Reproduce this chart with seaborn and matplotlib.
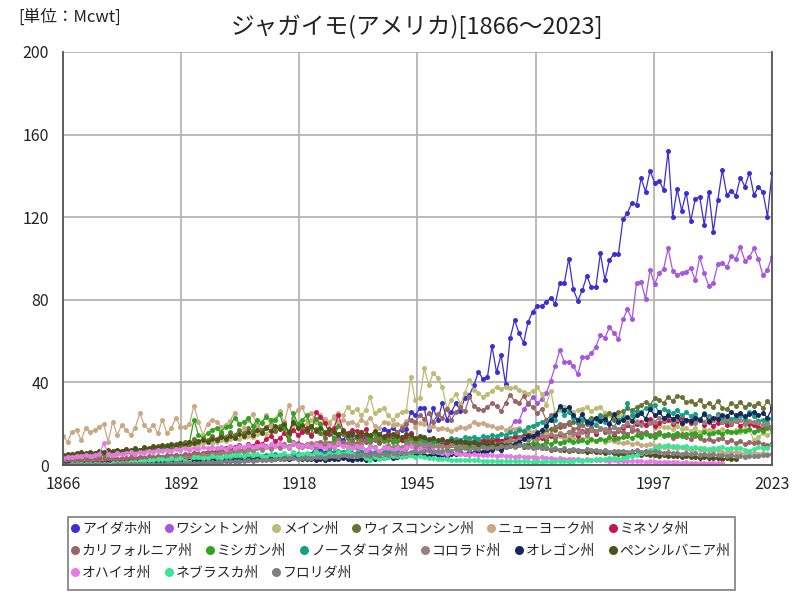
import matplotlib
matplotlib.use("Agg")
import matplotlib.pyplot as plt
import seaborn as sns
import pandas as pd
from matplotlib.lines import Line2D
from matplotlib.patches import Rectangle

START = 1866

idaho = [0.1,0.1,0.1,0.1,
    0.1,0.1,0.1,0.1,0.1,0.2,0.2,0.2,0.2,0.3,
    0.3,0.3,0.4,0.4,0.5,0.5,0.6,0.6,0.7,0.7,
    0.8,0.9,1.0,1.0,1.1,1.2,1.2,1.3,1.4,1.5,
    1.6,1.8,1.7,2.0,2.1,2.0,2.3,2.4,2.6,2.8,
    3.0,3.4,3.8,3.5,3.2,3.6,3.0,4.2,4.0,3.2,
    4.0,5.3,8.6,7.3,6.0,6.9,8.9,13.7,12.1,15.0,
    14.5,13.7,13.4,12.9,12.1,12.5,14.0,17.3,16.6,17.8,
    16.1,17.0,17.5,25.8,24.0,27.4,27.4,17.0,27.4,21.8,
    30.0,22.0,25.8,29.9,26.3,32.6,33.9,38.7,45.2,41.6,
    42.8,57.6,44.9,53.3,39.2,61.3,70.2,63.8,59.2,69.4,
    74.2,77.0,77.0,78.8,81.0,78.0,88.3,88.0,100.0,85.0,
    79.6,84.7,91.5,86.0,86.3,102.5,89.6,99.3,102.2,102.2,
    119.0,122.2,127.0,126.0,138.8,132.4,142.5,136.7,137.7,133.2,
    152.2,120.0,133.5,123.2,131.9,118.2,128.8,130.0,116.2,132.4,
    113.0,128.3,142.9,130.8,132.9,130.3,139.2,134.8,141.6,130.8,
    134.8,132.0,120.3,141.6]

washington = [0.2,0.2,0.2,0.3,
    0.3,0.3,0.4,0.4,0.4,0.5,0.5,0.6,0.6,0.7,
    0.7,0.8,0.9,1.0,1.0,1.1,1.2,1.3,1.5,1.6,
    1.8,2.0,2.1,2.2,2.0,2.3,2.5,2.4,2.6,2.8,
    2.9,3.1,3.0,3.3,3.5,3.2,3.6,3.8,3.5,4.0,
    4.2,4.5,4.0,4.3,4.6,4.4,4.0,5.5,5.2,4.8,
    4.5,5.0,5.6,4.8,4.2,5.2,5.8,5.0,6.0,5.5,
    5.2,5.8,5.0,5.6,6.2,5.8,6.0,6.5,6.2,6.8,
    7.2,7.0,8.0,9.5,8.5,9.0,8.2,8.8,9.4,9.0,
    10.5,9.0,9.8,10.2,9.5,10.8,11.5,10.8,11.2,12.0,
    11.0,12.5,11.8,10.8,11.5,17.3,21.5,21.5,27.0,29.5,
    33.0,29.9,31.8,34.7,40.8,48.0,55.7,50.0,50.0,48.0,
    43.9,52.4,52.4,54.0,57.3,63.0,61.6,66.7,64.0,61.0,
    70.5,75.4,70.5,88.3,88.8,80.4,94.4,87.6,92.8,95.0,
    104.9,94.1,92.0,93.1,93.6,95.2,89.6,100.6,92.8,86.8,
    88.3,97.3,98.0,95.7,101.2,99.8,105.4,98.9,100.6,104.9,
    99.6,91.9,94.4,100.9]

maine = [3.0,3.5,3.2,4.0,
    4.2,3.8,4.5,4.8,4.4,5.2,5.0,5.6,5.2,6.0,
    6.2,5.8,6.6,7.0,6.5,7.2,7.8,7.0,8.2,8.0,
    8.5,9.0,8.4,9.5,9.0,10.2,9.8,10.5,11.0,10.6,
    11.2,12.0,11.5,12.6,13.0,12.4,13.8,14.2,13.5,15.0,
    16.0,15.2,17.0,16.4,18.0,17.2,16.5,19.5,20.5,18.5,
    20.0,22.0,21.0,20.5,21.0,21.0,22.6,25.0,24.0,28.2,
    25.8,27.0,24.2,26.6,33.0,25.0,26.6,27.4,24.2,21.8,
    24.2,25.8,26.0,42.8,31.5,32.3,46.8,38.7,44.7,42.0,
    37.6,27.4,31.5,34.4,29.5,34.7,41.2,36.3,35.0,33.0,
    34.4,36.0,37.9,36.7,37.9,37.4,37.6,36.3,35.5,34.4,
    36.0,37.6,34.4,29.0,36.0,25.0,26.6,28.0,27.0,25.5,
    26.6,27.0,28.0,26.0,27.5,28.0,25.0,24.0,22.6,23.5,
    24.0,22.0,23.0,21.5,20.5,19.5,21.5,18.0,19.0,18.2,
    18.5,17.5,19.0,17.2,18.0,16.5,17.7,16.0,17.5,16.8,
    17.0,16.5,17.2,16.0,15.8,17.0,16.2,17.5,16.8,12.0,
    13.5,15.5,14.5,16.0]

wisconsin = [3.5,4.0,3.6,4.2,
    4.5,4.0,4.8,5.0,4.6,5.2,5.5,5.0,5.8,6.0,
    6.5,7.0,6.8,7.5,8.0,7.6,8.4,9.0,8.5,9.5,
    8.8,10.0,9.5,11.0,10.2,12.5,11.0,13.0,12.0,14.0,
    12.5,15.0,13.5,16.0,14.5,17.0,15.5,18.0,16.5,19.5,
    17.0,18.5,20.0,16.5,19.0,21.0,15.0,20.5,19.0,17.0,
    16.0,14.0,17.5,15.5,13.0,16.0,12.5,14.5,15.0,13.0,
    12.0,13.5,12.5,11.0,13.0,12.0,10.5,11.5,12.0,11.0,
    11.5,12.0,11.0,13.0,12.5,12.0,11.5,10.5,11.0,10.0,
    10.5,9.8,10.2,11.0,10.0,11.5,10.8,11.5,12.0,11.0,
    11.5,12.5,12.0,11.5,12.5,13.0,14.0,13.5,14.5,15.0,
    15.5,16.0,15.0,16.5,17.5,17.0,18.5,19.5,20.0,21.0,
    20.5,22.0,21.5,23.0,22.5,24.0,23.5,25.0,22.0,25.5,
    26.0,27.5,26.5,28.0,29.0,30.5,29.0,32.5,31.5,30.0,
    33.0,31.0,33.5,33.0,30.5,31.0,29.5,31.5,28.5,30.0,
    28.0,31.0,27.5,27.0,30.0,28.5,30.5,28.0,29.5,28.5,
    30.0,27.5,31.0,28.0]

new_york = [14.0,11.3,16.0,17.0,
    12.0,17.8,16.0,17.0,18.5,20.0,11.3,21.0,14.5,19.4,
    17.0,14.5,18.0,25.0,19.4,17.0,19.4,15.3,22.0,15.3,
    17.8,23.0,18.5,18.5,20.0,28.6,21.0,14.5,20.0,22.0,
    21.0,18.5,19.4,21.5,25.3,20.0,18.0,22.0,24.5,19.0,
    21.0,24.0,19.0,22.5,26.0,20.5,29.0,23.0,26.6,28.0,
    22.0,25.0,21.0,24.0,22.5,20.0,23.5,21.0,22.0,20.5,
    21.0,19.5,22.0,20.5,23.0,19.0,18.0,21.0,20.5,19.5,
    20.0,19.0,21.5,22.0,18.5,20.5,20.0,18.5,19.0,17.5,
    18.0,17.3,16.5,17.5,18.5,18.0,19.0,21.0,20.0,20.5,
    19.5,19.0,17.8,18.5,17.0,18.0,17.5,18.0,16.5,17.0,
    16.0,15.5,14.0,15.0,14.5,13.0,14.0,12.5,13.5,13.0,
    12.0,12.5,13.5,12.0,11.5,12.8,11.0,12.0,11.5,11.0,
    10.5,11.0,10.0,10.5,9.5,9.8,10.0,9.0,9.5,8.8,
    8.5,9.0,8.0,8.5,7.8,7.5,8.0,7.2,7.5,7.0,
    6.8,7.2,6.5,6.0,6.5,6.2,6.0,5.5,6.0,5.8,
    5.5,6.0,5.2,5.5]

minnesota = [0.8,1.0,1.2,1.0,
    1.3,1.5,1.2,1.6,1.8,1.5,2.0,1.8,2.2,2.5,
    2.2,2.8,2.5,3.0,3.2,2.8,3.5,3.2,4.0,3.6,
    4.2,4.8,3.8,5.0,4.5,6.0,5.2,5.8,6.5,6.0,
    7.0,6.2,8.0,7.5,8.5,9.5,8.0,10.0,9.2,11.0,
    10.0,12.5,14.0,11.5,13.0,15.5,12.0,17.0,14.5,16.0,
    18.0,14.5,25.8,23.4,20.5,15.0,18.0,24.2,17.0,15.5,
    17.0,16.5,14.5,17.5,13.0,15.5,12.5,14.0,15.0,13.5,
    14.5,12.0,13.5,15.5,11.5,13.0,12.5,11.0,12.0,10.5,
    11.0,10.0,10.5,11.5,9.5,10.0,11.0,10.5,9.8,11.5,
    12.0,11.0,12.5,11.5,13.0,12.0,13.5,12.5,14.0,13.0,
    13.5,14.5,13.0,12.0,14.0,13.5,15.0,14.5,16.0,15.5,
    14.0,16.5,15.5,17.0,15.0,18.0,16.0,17.5,14.5,17.0,
    18.0,19.5,17.0,20.0,21.0,19.5,22.5,19.0,20.5,21.5,
    22.0,20.0,21.5,23.0,22.0,20.5,21.0,22.5,19.5,21.0,
    19.0,20.5,21.0,19.5,20.0,21.5,19.0,20.5,20.0,19.5,
    18.5,17.5,19.5,18.0]

california = [2.0,2.2,1.8,2.5,
    2.4,2.8,2.6,3.0,2.7,3.2,3.0,3.4,3.1,3.5,
    3.3,3.8,3.5,4.0,3.6,4.2,3.9,4.5,4.1,4.8,
    4.5,5.0,4.6,5.4,5.0,5.8,5.2,6.0,5.6,6.4,
    6.0,6.8,6.2,7.2,6.6,7.5,7.0,8.0,7.4,8.5,
    8.0,9.0,8.2,9.5,8.6,10.0,9.0,11.0,10.5,9.5,
    10.0,9.0,10.5,11.0,9.5,10.8,11.5,10.0,11.0,10.5,
    11.0,10.5,11.5,12.0,11.0,12.5,13.0,12.0,13.5,14.5,
    16.0,18.0,20.0,22.0,21.0,24.0,22.5,25.0,21.0,24.5,
    23.0,27.0,22.0,25.5,28.0,26.0,33.0,28.5,27.0,26.6,
    28.0,30.0,28.5,26.0,30.0,34.0,31.0,30.0,33.5,30.0,
    28.0,25.0,27.0,21.8,24.0,18.5,20.0,19.0,21.0,17.5,
    18.0,19.5,17.0,18.5,16.5,17.5,16.0,17.0,15.5,16.5,
    16.0,15.0,16.5,17.0,15.5,16.0,14.5,15.0,16.0,14.0,
    14.5,13.0,14.0,15.0,13.5,12.5,14.0,13.0,12.0,12.5,
    11.5,12.5,13.0,11.0,12.0,10.5,11.5,10.0,11.0,10.5,
    11.0,10.0,9.5,10.5]

michigan = [4.0,4.5,4.2,5.0,
    5.2,4.6,5.5,5.0,6.0,5.4,6.2,5.8,6.5,6.0,
    6.8,6.2,7.5,7.0,8.0,7.2,8.5,7.8,9.0,8.2,
    9.5,8.8,10.5,9.5,11.0,21.8,14.5,13.0,15.3,17.0,
    17.8,16.0,18.5,19.0,23.0,20.0,21.0,22.6,19.0,21.8,
    20.5,23.4,22.0,21.8,24.5,18.0,12.0,25.0,20.0,22.0,
    24.0,18.0,22.5,20.0,16.0,17.5,13.0,19.0,16.5,14.0,
    15.5,13.0,16.0,14.5,12.0,15.0,13.5,12.5,14.0,11.5,
    12.0,13.5,11.0,12.5,10.5,12.0,11.0,10.0,11.5,9.5,
    9.0,8.5,9.5,8.0,9.0,8.5,9.2,8.0,8.8,9.5,
    9.0,9.5,8.8,9.8,9.2,10.0,9.5,10.5,9.8,10.0,
    10.5,10.0,9.5,11.0,10.2,11.5,10.8,11.0,12.0,11.2,
    11.5,12.0,11.0,12.5,11.8,12.8,12.0,13.5,12.5,13.0,
    13.5,14.0,13.0,14.5,13.8,15.0,14.2,13.5,15.0,14.5,
    15.0,14.5,15.5,14.0,15.2,14.8,15.5,14.2,15.8,15.0,
    15.5,16.0,15.2,16.5,15.8,16.2,17.0,16.5,17.2,16.0,
    17.0,16.5,17.8,17.2]

north_dakota = [0.1,0.1,0.1,0.1,
    0.1,0.1,0.1,0.2,0.2,0.2,0.3,0.3,0.4,0.4,
    0.5,0.6,0.8,1.0,1.1,1.3,1.2,1.5,1.4,1.6,
    1.8,2.0,1.9,2.2,2.0,2.5,2.3,2.6,2.8,3.0,
    3.2,3.0,3.5,3.8,3.4,4.0,3.7,4.2,4.5,4.0,
    4.6,5.0,4.4,5.2,4.8,5.5,4.5,6.0,5.2,5.0,
    5.5,5.0,6.5,6.0,5.5,6.8,6.2,7.0,6.5,7.2,
    6.0,5.5,6.8,5.2,5.0,6.5,5.8,6.2,7.0,6.8,
    7.5,8.0,9.0,10.5,9.5,10.0,11.0,12.0,12.5,11.0,
    12.0,11.5,13.0,12.5,12.0,13.5,13.0,13.7,12.5,14.0,
    13.5,14.5,14.0,15.0,14.5,16.0,15.5,17.0,16.5,18.5,
    19.0,20.0,21.0,19.5,23.0,22.0,28.0,24.0,25.5,23.0,
    21.0,22.5,20.0,21.8,19.5,23.5,21.0,20.5,18.5,22.0,
    23.0,30.0,24.0,26.0,25.8,27.5,28.0,29.0,25.5,27.0,
    26.0,25.0,26.5,24.0,25.5,23.5,24.5,22.0,25.0,23.5,
    22.0,24.5,23.0,21.5,22.5,23.0,24.0,22.5,25.5,23.5,
    21.5,22.0,20.5,23.0]

colorado = [0.1,0.1,0.1,0.2,
    0.2,0.3,0.3,0.4,0.5,0.5,0.6,0.7,0.8,0.9,
    1.0,1.2,1.4,1.5,1.8,2.0,2.2,2.5,2.8,3.0,
    3.2,3.5,3.3,4.0,3.6,4.5,4.0,5.0,4.5,5.5,
    5.0,6.0,5.5,6.5,5.8,7.0,6.2,7.5,6.8,8.0,
    7.5,8.5,7.8,9.0,8.2,9.5,8.0,10.0,9.0,8.5,
    9.0,10.5,8.0,9.5,11.0,8.5,10.0,12.0,9.0,10.5,
    9.5,8.0,10.0,7.5,9.0,8.5,7.0,8.0,9.5,8.5,
    9.0,8.5,10.0,11.0,9.5,10.5,9.8,10.2,9.0,9.5,
    9.0,8.5,9.5,10.0,8.8,9.5,10.5,9.0,10.0,9.5,
    10.0,10.5,9.5,10.8,11.0,12.0,11.5,12.5,13.0,12.0,
    13.0,12.5,14.0,13.5,15.0,14.0,15.5,14.5,16.0,15.0,
    15.5,16.0,14.5,17.0,16.5,18.0,17.5,16.0,18.5,17.5,
    19.0,20.5,18.5,21.0,19.5,22.5,20.5,21.0,23.0,22.0,
    23.5,21.0,22.5,20.0,21.5,22.0,20.5,22.5,21.0,23.0,
    22.0,23.5,21.0,22.5,20.5,21.5,22.0,20.0,21.5,21.0,
    20.5,19.5,20.0,18.5]

oregon = [0.3,0.3,0.4,0.4,
    0.5,0.5,0.6,0.6,0.7,0.7,0.8,0.8,0.9,0.9,
    1.0,1.0,1.1,1.2,1.2,1.3,1.4,1.4,1.5,1.6,
    1.6,1.7,1.8,1.8,1.9,2.0,2.0,2.1,2.2,2.2,
    2.3,2.4,2.3,2.5,2.6,2.5,2.7,2.8,2.6,2.9,
    3.0,3.2,2.8,3.1,3.3,3.0,2.7,3.5,3.2,3.0,
    2.8,3.0,2.6,2.9,2.5,2.7,3.0,2.8,3.2,2.9,
    2.5,2.8,3.0,2.6,3.2,3.0,3.5,3.3,3.8,3.6,
    4.0,4.5,4.2,5.0,4.8,5.5,5.0,4.6,5.2,4.8,
    5.0,4.5,5.5,5.2,6.0,5.5,6.5,6.0,7.0,6.5,
    7.0,7.5,8.0,7.2,8.5,9.0,10.0,11.0,12.5,14.0,
    14.0,15.5,17.0,19.0,22.0,24.0,28.6,26.6,28.0,24.0,
    22.0,24.5,21.0,20.5,23.0,21.5,22.5,20.0,24.5,21.0,
    22.0,23.4,21.5,24.0,25.0,22.5,27.0,24.0,25.5,23.0,
    24.0,22.5,23.5,20.2,22.0,21.5,23.0,22.0,24.5,21.5,
    23.0,22.5,24.0,23.5,25.8,24.0,25.0,23.5,24.5,25.5,
    24.0,25.0,23.0,27.4]

pennsylvania = [5.0,5.5,5.2,6.0,
    6.2,5.8,6.5,6.0,7.0,6.5,7.2,6.8,7.5,7.0,
    7.8,7.2,8.0,7.5,8.5,8.0,9.0,8.5,9.5,9.0,
    10.0,9.5,10.5,9.8,11.0,10.5,11.5,12.0,11.0,12.5,
    12.0,13.5,12.5,14.0,13.0,15.0,14.0,16.0,14.5,17.0,
    15.5,18.0,16.5,19.0,17.5,20.0,16.0,21.0,18.0,19.5,
    17.0,19.0,16.5,18.0,15.5,17.5,16.0,15.0,16.5,14.5,
    15.5,14.0,16.0,15.0,14.5,16.5,15.0,13.5,14.5,15.0,
    14.0,13.5,15.0,14.5,13.0,14.0,13.5,12.5,13.0,12.0,
    12.5,11.5,12.0,11.0,11.8,11.2,10.5,11.0,10.2,10.8,
    10.0,10.5,9.8,10.2,9.5,9.8,9.2,9.5,8.8,9.0,
    8.5,8.8,8.0,8.2,7.5,7.8,7.2,7.5,7.0,7.2,
    6.8,7.0,6.5,6.8,6.2,6.5,6.0,6.2,5.8,5.5,
    5.5,5.8,5.2,5.5,5.0,5.3,4.8,5.0,4.5,4.7,
    4.5,4.2,4.6,4.0,4.3,3.8,4.0,3.6,3.8,3.5,
    3.3,3.5,3.0,3.2,2.8,3.0]

ohio = [3.5,4.0,3.8,4.5,
    4.2,5.0,4.6,4.8,5.2,10.5,5.5,5.0,6.0,5.4,
    5.8,6.2,5.5,6.5,6.0,7.0,6.4,7.2,6.8,7.5,
    7.0,7.8,7.2,8.0,7.5,8.2,7.8,8.5,8.0,8.8,
    8.0,8.5,7.8,9.0,8.2,9.2,8.5,9.5,8.8,9.0,
    9.5,8.8,10.0,9.2,10.5,9.0,8.5,10.8,9.5,9.0,
    9.5,8.5,10.0,9.0,8.0,9.5,8.8,10.5,9.2,8.5,
    8.0,9.0,8.5,7.5,8.8,8.0,7.0,8.5,8.0,7.5,
    8.0,7.5,8.5,9.0,7.0,8.0,7.5,6.8,7.2,6.5,
    6.0,5.5,6.2,5.8,5.2,5.5,5.0,5.3,4.8,5.0,
    4.8,5.0,4.5,4.8,4.2,4.5,4.0,4.3,3.8,4.0,
    3.8,3.5,3.7,3.2,3.5,3.0,3.2,2.8,3.0,2.7,
    2.8,2.5,2.7,2.3,2.5,2.2,2.4,2.0,2.2,1.9,
    2.0,1.8,2.0,1.7,1.9,1.6,1.8,1.5,1.6,1.4,
    1.5,1.3,1.4,1.2,1.3,1.1,1.2,1.0,1.1,1.0,
    0.9,1.0,0.8]

nebraska = [0.2,0.2,0.3,0.3,
    0.3,0.4,0.4,0.5,0.5,0.6,0.7,0.8,0.9,1.0,
    1.2,1.4,1.6,1.8,2.0,2.2,2.5,2.8,3.0,2.6,
    3.2,2.5,3.5,1.8,1.5,3.8,4.0,3.5,3.2,4.2,
    4.0,3.5,4.5,4.2,4.8,5.0,4.5,5.2,4.8,5.5,
    4.5,3.8,5.5,4.2,5.0,5.8,4.2,6.5,5.0,5.5,
    6.0,5.0,6.5,5.5,4.5,5.8,5.0,6.2,5.5,6.8,
    5.5,4.5,5.0,3.5,2.5,4.0,2.8,3.5,4.0,4.5,
    4.2,4.0,4.5,4.8,4.0,4.2,3.8,3.5,3.2,3.0,
    3.0,2.8,2.5,2.6,2.2,2.4,2.5,2.2,2.3,2.0,
    2.1,2.0,1.8,2.0,1.7,1.9,1.8,2.0,1.7,1.8,
    1.6,1.8,1.5,1.7,1.6,1.9,1.7,1.8,1.6,2.0,
    2.2,2.0,2.5,2.3,2.8,3.0,2.7,3.2,3.5,3.0,
    3.5,4.0,4.5,5.0,6.0,6.5,7.5,8.0,8.5,9.0,
    9.5,8.8,9.2,8.5,9.0,8.2,8.6,8.0,8.4,7.8,
    8.2,8.0,8.5,7.8,8.2,8.0,8.3,7.5,7.0,7.8,
    8.5,8.2,8.0,9.5]

florida = [0.1,0.1,0.1,0.1,
    0.1,0.1,0.1,0.1,0.2,0.2,0.2,0.2,0.3,0.3,
    0.3,0.4,0.4,0.5,0.5,0.6,0.6,0.7,0.7,0.8,
    0.8,0.9,1.0,1.0,1.1,1.2,1.2,1.3,1.4,1.5,
    1.5,1.6,1.8,1.7,2.0,1.9,2.1,2.2,2.0,2.3,
    2.5,2.4,2.6,2.8,3.0,2.7,3.2,3.5,3.0,3.3,
    3.5,3.2,3.8,4.0,3.6,4.2,4.5,4.0,4.8,4.4,
    4.6,4.2,4.8,5.0,4.5,5.2,4.8,5.5,5.0,5.8,
    5.5,6.0,5.8,6.5,7.0,6.2,6.8,7.2,6.5,7.0,
    6.8,7.5,7.0,7.8,7.2,8.0,7.5,8.2,7.8,8.5,
    8.0,8.8,8.2,9.0,8.5,9.2,8.8,9.5,9.0,8.5,
    8.2,8.8,8.0,8.5,7.8,8.2,7.5,8.0,7.2,7.8,
    7.5,7.0,7.8,7.2,7.5,6.8,7.2,6.5,7.0,6.8,
    7.0,6.5,6.8,7.2,6.5,7.0,6.2,6.8,6.5,6.0,
    6.2,5.8,6.0,5.5,5.8,5.2,5.6,5.0,5.4,5.0,
    5.2,4.8,5.0,4.5,4.8,4.2,4.6,4.0,4.4,4.2,
    4.5,4.8,5.0,5.2]

states = ["アイダホ州", "ワシントン州", "メイン州", "ウィスコンシン州", "ニューヨーク州",
          "ミネソタ州", "カリフォルニア州", "ミシガン州", "ノースダコタ州", "コロラド州",
          "オレゴン州", "ペンシルバニア州", "オハイオ州", "ネブラスカ州", "フロリダ州"]
series = [idaho, washington, maine, wisconsin, new_york, minnesota, california,
          michigan, north_dakota, colorado, oregon, pennsylvania, ohio, nebraska, florida]
colors = ["#3b2fd1", "#a855e0", "#bcbc74", "#6b7334", "#c9a882", "#c8134c", "#996666",
          "#2ea51e", "#14a084", "#9c8078", "#11295e", "#4f5119", "#e87ae8", "#38e894", "#808080"]
tick_years = ["1866", "1892", "1918", "1945", "1971", "1997", "2023"]

rows = []
for name, vals in zip(states, series):
    for i, v in enumerate(vals):
        rows.append({"year": START + i, "value": v, "state": name})
df = pd.DataFrame(rows)

sns.set_style("white")
plt.rcParams["font.family"] = ["Noto Sans CJK JP", "DejaVu Sans"]

fig = plt.figure(figsize=(8, 6), dpi=100)
ax = fig.add_axes([63/800, 1-465/600, (772-63)/800, (465-52)/600])

sns.lineplot(data=df, x="year", y="value", hue="state", hue_order=states,
             palette=colors, marker="o", markersize=3.6, markeredgewidth=0,
             linewidth=0.9, estimator=None, errorbar=None, legend=False, ax=ax)

ax.set_xlim(1866, 2023)
ax.set_ylim(0, 200)
ax.set_xticks([1866 + i*157/6 for i in range(7)])
ax.set_xticklabels(tick_years)
ax.set_yticks([0, 40, 80, 120, 160, 200])
ax.grid(True, color="#b4b4b4", linewidth=1.3)
ax.set_axisbelow(True)
ax.set_xlabel("")
ax.set_ylabel("")
for s in ["left", "bottom", "right"]:
    ax.spines[s].set_color("#555555")
    ax.spines[s].set_linewidth(1.3)
ax.spines["top"].set_visible(False)
ax.tick_params(length=0, labelsize=11.5, colors="#222222")
ax.tick_params(axis="y", pad=10)
ax.tick_params(axis="x", pad=8)

fig.text(417/800, 1-27/600, "ジャガイモ(アメリカ)[1866～2023]", ha="center", va="center",
         fontsize=17, color="#222222")
fig.text(18/800, 1-17/600, "[単位：Mcwt]", ha="left", va="center", fontsize=12, color="#222222")

# legend: one flowing row per line, framed by a single box
handles = [Line2D([], [], marker="o", linestyle="none", markersize=6.5,
                  markerfacecolor=c, markeredgewidth=0) for c in colors]
row_groups = [list(range(0, 6)), list(range(6, 12)), list(range(12, 15))]
row_centers = [529, 551, 573]
for grp, yc in zip(row_groups, row_centers):
    fig.legend([handles[i] for i in grp], [states[i] for i in grp],
               loc="center left", bbox_to_anchor=(70/800, 1-yc/600), ncol=len(grp),
               fontsize=10, frameon=False, handlelength=0.7, handletextpad=0.15,
               columnspacing=0.9, borderpad=0, borderaxespad=0)
fig.add_artist(Rectangle((68/800, 1-590/600), (735-68)/800, (590-517)/600,
                         transform=fig.transFigure, fill=False,
                         edgecolor="#888888", linewidth=1.3))

fig.savefig("out.png", dpi=100)
